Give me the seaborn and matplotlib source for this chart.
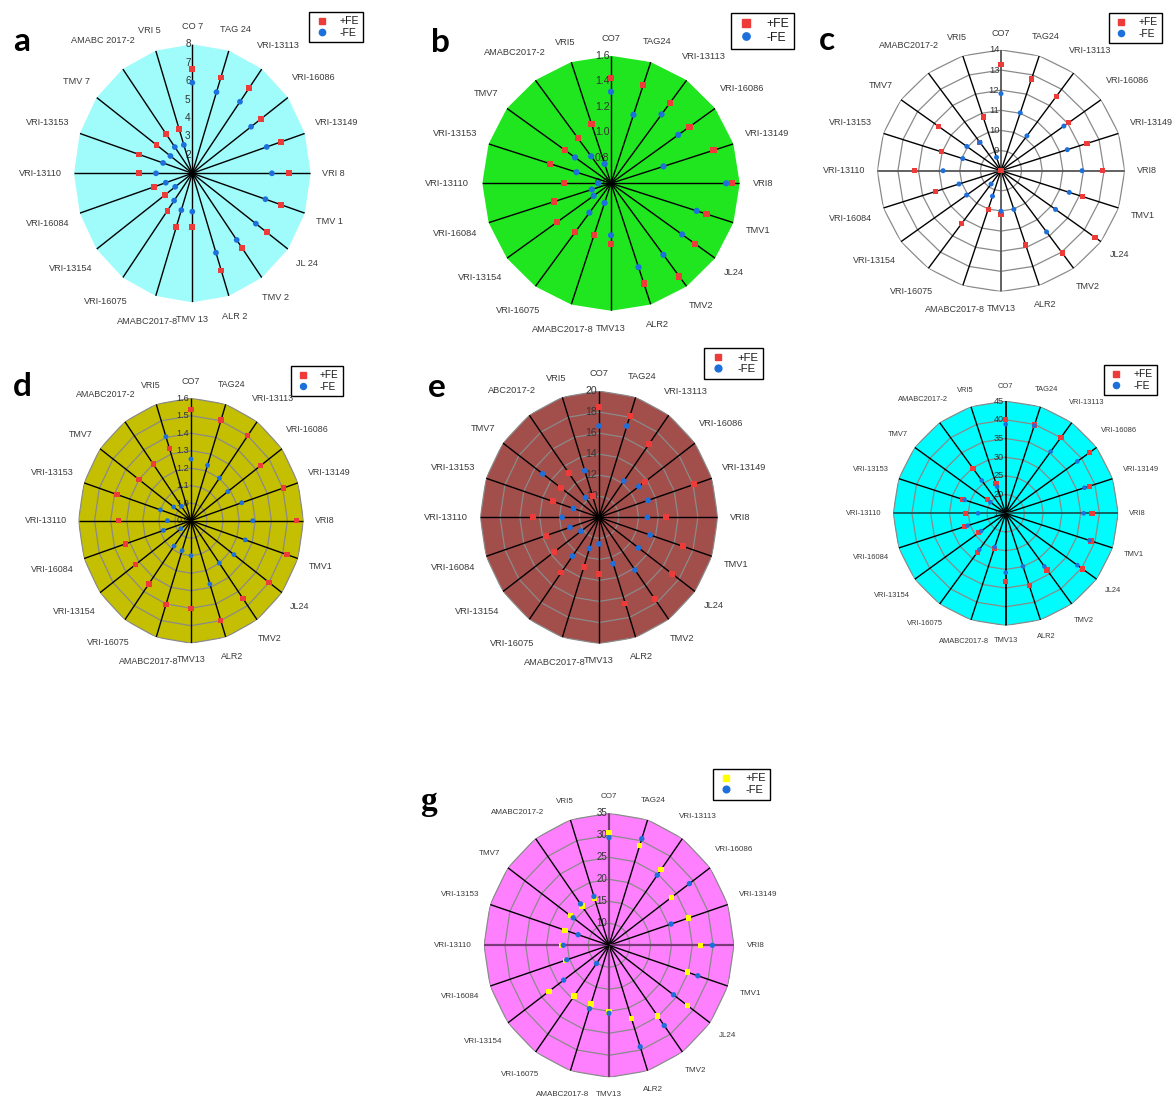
import numpy as np
import pandas as pd
import matplotlib
matplotlib.use("Agg")
import matplotlib.pyplot as plt
from matplotlib.lines import Line2D
import seaborn as sns

# ---------------------------------------------------------------------------
# Genotypes, clockwise from the top spoke
categories = ["CO7", "TAG24", "VRI-13113", "VRI-16086", "VRI-13149", "VRI8",
              "TMV1", "JL24", "TMV2", "ALR2", "TMV13", "AMABC2017-8",
              "VRI-16075", "VRI-13154", "VRI-16084", "VRI-13110", "VRI-13153",
              "TMV7", "AMABC2017-2", "VRI5"]
names_a = ["CO 7", "TAG 24", "VRI-13113", "VRI-16086", "VRI-13149", "VRI 8",
           "TMV 1", "JL 24", "TMV 2", "ALR 2", "TMV 13", "AMABC2017-8",
           "VRI-16075", "VRI-13154", "VRI-16084", "VRI-13110", "VRI-13153",
           "TMV 7", "AMABC 2017-2", "VRI 5"]
names_e = categories[:18] + ["ABC2017-2", "VRI5"]

# Trait values with (+FE) and without (-FE) iron, one pair of arrays per panel
a_plus = [6.66, 6.46, 6.70, 6.04, 6.51, 6.74, 6.52, 6.45, 5.99, 6.55,
          3.93, 4.08, 3.51, 3.00, 3.38, 4.14, 4.32, 3.61, 3.66, 3.52]
a_minus = [5.92, 5.63, 5.80, 5.30, 5.63, 5.71, 5.55, 5.65, 5.47, 5.53,
           3.08, 3.10, 2.83, 2.25, 2.65, 3.15, 2.82, 2.60, 2.76, 2.62]

b_plus = [1.424, 1.408, 1.379, 1.353, 1.437, 1.539, 1.381, 1.406, 1.503, 1.426,
          1.079, 1.028, 1.073, 1.116, 1.064, 0.966, 1.098, 1.041, 1.037, 1.089]
b_minus = [1.318, 1.165, 1.268, 1.246, 1.029, 1.495, 1.300, 1.282, 1.293, 1.292,
           1.008, 0.762, 0.885, 0.767, 0.757, 0.700, 0.882, 0.945, 0.862, 0.760]

c_plus = [13.26, 12.79, 12.55, 12.05, 12.39, 12.92, 12.15, 13.64, 13.05, 11.88,
          10.19, 10.02, 11.25, 8.00, 11.34, 12.20, 11.05, 11.75, 9.75, 10.80]
c_minus = [11.83, 11.02, 10.14, 11.77, 11.38, 11.93, 11.48, 11.27, 11.76, 10.02,
           10.01, 9.33, 8.82, 10.06, 10.14, 10.81, 9.95, 10.05, 9.73, 8.70]

d_plus = [1.536, 1.505, 1.501, 1.435, 1.505, 1.555, 1.527, 1.500, 1.450, 1.498,
          1.401, 1.402, 1.346, 1.327, 1.329, 1.352, 1.384, 1.299, 1.300, 1.335]
d_minus = [1.252, 1.233, 1.201, 1.183, 1.232, 1.284, 1.255, 1.230, 1.199, 1.281,
           1.100, 1.080, 1.079, 0.978, 1.080, 1.047, 1.100, 1.033, 1.002, 1.405]

e_plus = [18.48, 18.15, 16.61, 13.73, 18.12, 14.81, 16.92, 17.17, 17.64, 16.61,
          13.35, 12.97, 14.48, 13.65, 13.67, 14.71, 12.92, 12.79, 13.18, 10.09]
e_minus = [16.68, 17.12, 12.26, 12.98, 13.21, 12.89, 13.43, 12.93, 14.19, 12.63,
           10.53, 11.11, 12.56, 10.25, 11.09, 11.74, 10.71, 15.03, 10.32, 12.66]

f_plus = [40.07, 39.85, 40.10, 42.75, 38.45, 38.00, 38.90, 40.30, 33.75, 35.40,
          33.26, 24.80, 27.90, 23.90, 26.50, 25.65, 26.98, 21.10, 29.80, 23.40]
f_minus = [38.80, 39.65, 35.40, 38.60, 37.10, 35.80, 38.50, 38.60, 32.55, 29.90,
           30.85, 24.50, 27.00, 23.10, 25.70, 22.40, 26.50, 20.07, 25.85, 22.50]

g_plus = [30.60, 28.87, 26.30, 23.52, 25.08, 26.92, 24.77, 28.31, 24.87, 22.56,
          20.15, 19.06, 19.25, 22.78, 15.97, 16.44, 16.10, 16.49, 16.01, 16.13]
g_minus = [29.47, 30.48, 24.69, 28.84, 20.66, 29.80, 27.42, 24.15, 27.55, 29.25,
           20.45, 20.15, 10.11, 18.46, 15.67, 15.96, 12.80, 15.62, 16.63, 16.68]

# Radial tick values shown along the top spoke
ticks_a = [2, 3, 4, 5, 6, 7, 8]
ticks_b = [0.6, 0.8, 1.0, 1.2, 1.4, 1.6]
ticks_c = [9, 10, 11, 12, 13, 14]
ticks_d = [0.9, 1.0, 1.1, 1.2, 1.3, 1.4, 1.5, 1.6]
ticks_e = [8, 10, 12, 14, 16, 18, 20]
ticks_f = [15, 20, 25, 30, 35, 40, 45]
ticks_g = [10, 15, 20, 25, 30, 35]

# ---------------------------------------------------------------------------
sns.set_theme(style="white")
plt.rcParams["font.family"] = ["Liberation Sans", "DejaVu Sans"]

W, H = 1173, 1101
fig = plt.figure(figsize=(W / 100, H / 100), dpi=100)
fig.patch.set_facecolor("white")

RED = "#EC3B38"
BLUE = "#1D6FDB"
YELLOW = "#FFFF00"

panels = [
    dict(letter="a", letter_xy=(13, 51), letter_font=["Lato", "DejaVu Sans"],
         center=(192.3, 173.3), radius=(118.3, 129.0), rlim=(1, 8),
         ticks=ticks_a, fmt="{:.0f}", tick_fs=7.2, rings=[], face="#A0FBFB",
         cross=("black", "black", 1.0), names=names_a, cat_fs=6.6,
         plus=a_plus, minus=a_minus, plus_color=RED, sizes=(17, 17),
         legend_xy=(309, 12), legend_fs=7.6),
    dict(letter="b", letter_xy=(431, 52), letter_font=["Lato", "DejaVu Sans"],
         center=(611.0, 183.3), radius=(128.7, 127.5), rlim=(0.6, 1.6),
         ticks=ticks_b, fmt="{:.1f}", tick_fs=7.6, rings=[], face="#1FE61F",
         cross=("black", "black", 1.0), names=categories, cat_fs=6.7,
         plus=b_plus, minus=b_minus, plus_color=RED, sizes=(20, 20),
         legend_xy=(731, 13), legend_fs=8.8),
    dict(letter="c", letter_xy=(819, 50), letter_font=["Lato", "DejaVu Sans"],
         center=(1001.0, 170.7), radius=(123.7, 120.8), rlim=(8, 14),
         ticks=ticks_c, fmt="{:.0f}", tick_fs=6.8, rings=ticks_c, face="white",
         cross=("#555555", "#555555", 1.3), names=categories, cat_fs=6.5,
         plus=c_plus, minus=c_minus, plus_color=RED, sizes=(14, 13),
         legend_xy=(1109, 13), legend_fs=7.4),
    dict(letter="d", letter_xy=(13, 396), letter_font=["Lato", "DejaVu Sans"],
         center=(191.0, 520.7), radius=(112.5, 122.5), rlim=(0.9, 1.6),
         ticks=ticks_d, fmt="{:.1f}", tick_fs=6.6, rings=ticks_d[1:],
         face="#C4BF00", cross=("black", "black", 1.0), names=categories,
         cat_fs=6.4, plus=d_plus, minus=d_minus, plus_color=RED,
         sizes=(15, 12), legend_xy=(291, 366), legend_fs=7.2),
    dict(letter="e", letter_xy=(428, 397), letter_font=["Lato", "DejaVu Sans"],
         center=(599.0, 517.3), radius=(118.7, 126.3), rlim=(8, 20),
         ticks=ticks_e, fmt="{:.0f}", tick_fs=7.6, rings=ticks_e[1:],
         face="#A24E4B", cross=("black", "black", 1.0), names=names_e,
         cat_fs=6.7, plus=e_plus, minus=e_minus, plus_color=RED,
         sizes=(18, 17), legend_xy=(704, 348), legend_fs=8.2),
    dict(letter=None, center=(1005.7, 513.3), radius=(112.5, 112.2),
         rlim=(15, 45), ticks=ticks_f, fmt="{:.0f}", tick_fs=6.6,
         rings=ticks_f[1:], face="#00FCFC", cross=("black", "#175858", 1.3),
         names=categories, cat_fs=5.4, plus=f_plus, minus=f_minus,
         plus_color=RED, sizes=(14, 11), legend_xy=(1104, 365), legend_fs=7.4),
    dict(letter="g", letter_xy=(420, 810),
         letter_font=["Liberation Serif", "DejaVu Serif"],
         center=(609.0, 945.3), radius=(125.0, 132.0), rlim=(5, 35),
         ticks=ticks_g, fmt="{:.0f}", tick_fs=7.0, rings=ticks_g,
         face="#FF80FF", cross=("#7A3A7A", "#7A3A7A", 1.6), names=categories,
         cat_fs=5.8, plus=g_plus, minus=g_minus, plus_color=YELLOW,
         sizes=(15, 15), legend_xy=(713, 769), legend_fs=8.0),
]

n = len(categories)
theta = np.arange(n) * 2 * np.pi / n
closed = np.append(theta, theta[0])
renderer = fig.canvas.get_renderer()
to_fig = fig.transFigure.inverted()


def draw_panel(cfg):
    cx, cy = cfg["center"]
    rx, ry = cfg["radius"]
    ax = fig.add_axes([(cx - rx) / W, 1 - (cy + ry) / H, 2 * rx / W, 2 * ry / H],
                      projection="polar")
    ax.set_aspect("auto")
    ax.set_theta_zero_location("N")
    ax.set_theta_direction(-1)
    ax.set_facecolor("none")
    rmin, rmax = cfg["rlim"]

    # 20-sided background and concentric polygon rings
    ax.fill(closed, np.full(n + 1, rmax), color=cfg["face"], lw=0, zorder=0)
    for r in cfg["rings"]:
        ax.plot(closed, np.full(n + 1, r), color="#8a8a8a", lw=0.9, zorder=1)

    # radial scale along the top spoke
    for v in cfg["ticks"]:
        ax.annotate(cfg["fmt"].format(v), xy=(0, v), xytext=(-1.2, 0),
                    textcoords="offset points", ha="right", va="center",
                    fontsize=cfg["tick_fs"], color="#333333", zorder=2,
                    annotation_clip=False)

    # spokes; the vertical and horizontal pair may carry their own colour
    vcol, hcol, cross_lw = cfg["cross"]
    for i, t in enumerate(theta):
        if i % 10 == 0:
            col, lw = vcol, cross_lw
        elif i % 5 == 0:
            col, lw = hcol, cross_lw
        else:
            col, lw = "black", 1.0
        ax.plot([t, t], [rmin, rmax], color=col, lw=lw, zorder=3,
                solid_capstyle="butt")

    df = pd.DataFrame({
        "theta": np.concatenate([theta, theta]),
        "value": np.concatenate([cfg["plus"], cfg["minus"]]),
        "treatment": ["+FE"] * n + ["-FE"] * n,
    })
    sns.scatterplot(data=df, x="theta", y="value", hue="treatment",
                    style="treatment", size="treatment",
                    markers={"+FE": "s", "-FE": "o"},
                    palette={"+FE": cfg["plus_color"], "-FE": BLUE},
                    sizes={"+FE": cfg["sizes"][0], "-FE": cfg["sizes"][1]},
                    linewidth=0, legend=False, ax=ax, zorder=5, clip_on=False)

    ax.set_xlabel("")
    ax.set_ylabel("")
    ax.set_ylim(rmin, rmax)
    ax.set_xticks([])
    ax.set_yticks([])
    ax.grid(False)
    ax.spines["polar"].set_visible(False)

    # genotype names just outside the polygon
    r_lab = rmin + 1.10 * (rmax - rmin)
    for t, name in zip(theta, cfg["names"]):
        anchor = ax.transData.transform((t, r_lab))
        txt = fig.text(0, 0, name, fontsize=cfg["cat_fs"], color="#3a3a3a",
                       ha="center", va="center")
        bb = txt.get_window_extent(renderer)
        s, c = np.sin(t), np.cos(t)
        off = bb.width / 2 * abs(s) + bb.height / 2 * abs(c)
        txt.set_position(to_fig.transform(anchor + off * np.array([s, c])))

    # legend box
    fs = cfg["legend_fs"]
    handles = [
        Line2D([], [], ls="none", marker="s", color=cfg["plus_color"],
               markersize=fs * 0.6),
        Line2D([], [], ls="none", marker="o", color=BLUE, markersize=fs * 0.6),
    ]
    lx, ly = cfg["legend_xy"]
    leg = ax.legend(handles, ["+FE", "-FE"], loc="upper left",
                    bbox_to_anchor=(lx / W, 1 - ly / H),
                    bbox_transform=fig.transFigure, frameon=True,
                    fancybox=False, edgecolor="black", framealpha=1,
                    facecolor="white", borderaxespad=0, fontsize=fs,
                    borderpad=0.4, labelspacing=0.15, handlelength=1.6,
                    handletextpad=0.9)
    leg.get_frame().set_linewidth(1.0)
    for text in leg.get_texts():
        text.set_color("#1a1a1a")
    leg.set_zorder(10)

    if cfg["letter"]:
        x, y = cfg["letter_xy"]
        fig.text(x / W, 1 - y / H, cfg["letter"], fontsize=24,
                 fontweight="bold", family=cfg["letter_font"], color="black",
                 ha="left", va="baseline")


for cfg in panels:
    draw_panel(cfg)

fig.savefig("out.png", dpi=100, facecolor="white")
